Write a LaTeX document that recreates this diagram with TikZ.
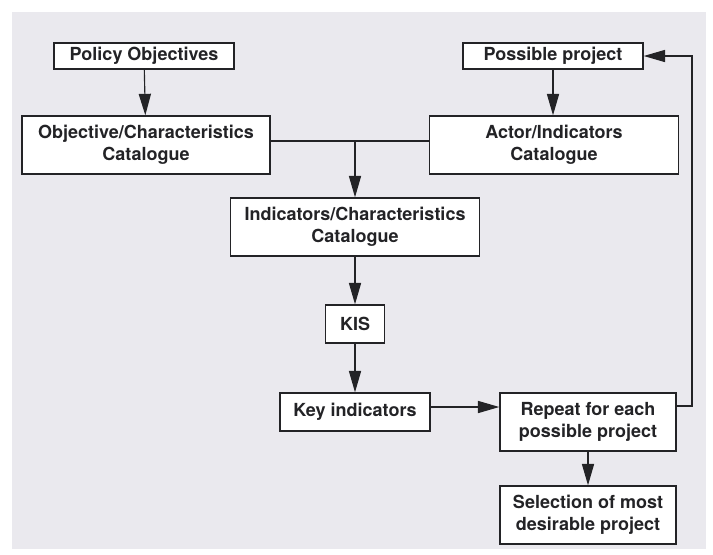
\documentclass[tikz,border=0pt]{standalone}
\usepackage{fontspec}
\setmainfont{TeX Gyre Heros}
\usepackage{tikz}
\usetikzlibrary{arrows.meta}

\definecolor{paper}{RGB}{234,233,238}
\definecolor{ink}{RGB}{35,35,38}

\begin{document}
\begin{tikzpicture}[x=0.7pt, y=-0.7pt, >={Triangle[length=15pt,width=8.5pt]},
	box/.style={draw=ink, line width=1pt, fill=white, text=ink, align=center,
		inner sep=0pt, font=\bfseries\fontsize{12.6}{15.4}\selectfont},
	link/.style={draw=ink, line width=0.8pt}]

	\def\px{0.7pt}

	% page and scanned background
	\useasboundingbox (0,0) rectangle (713,554);
	\fill[paper] (12,12) rectangle (706,549);

	% top row
	\node[box, minimum width=180*\px, minimum height=26*\px] (policy) at (144,56) {Policy Objectives};
	\node[box, minimum width=180*\px, minimum height=26*\px] (possible) at (553,56) {Possible project};

	% catalogues
	\node[box, minimum width=248*\px, minimum height=58*\px] (objcat) at (146,145) {Objective/Characteristics\\Catalogue};
	\node[box, minimum width=249*\px, minimum height=58*\px] (actcat) at (554,145) {Actor/Indicators\\Catalogue};
	\node[box, minimum width=249*\px, minimum height=58*\px] (indcat) at (355,227) {Indicators/Characteristics\\Catalogue};

	% middle column
	\node[box, minimum width=59*\px, minimum height=38*\px] (kis) at (355,324) {KIS};
	\node[box, minimum width=150*\px, minimum height=38*\px] (keyind) at (355,412) {Key indicators};

	% right column
	\node[box, minimum width=176*\px, minimum height=58*\px] (repeat) at (588,422) {Repeat for each\\possible project};
	\node[box, minimum width=176*\px, minimum height=58*\px] (select) at (588,515) {Selection of most\\desirable project};

	\coordinate (join) at (355,141);
	\coordinate (back) at (692,406);

	% connectors
	\draw[link, ->] (policy) -- (objcat);
	\draw[link, ->] (possible) -- (actcat.north -| possible);
	\draw[link] (objcat.east |- join) -- (actcat.west |- join);
	\draw[link, ->] (join) -- (indcat);
	\draw[link, ->] (indcat) -- (kis);
	\draw[link, ->] (kis) -- (keyind);
	\draw[link, ->] (keyind.east |- 0,407) -- (repeat.west |- 0,407);
	\draw[link, ->] (repeat.east |- back) -- (back) |- (possible.east);
	\draw[link, ->] (repeat) -- (select);

\end{tikzpicture}
\end{document}
